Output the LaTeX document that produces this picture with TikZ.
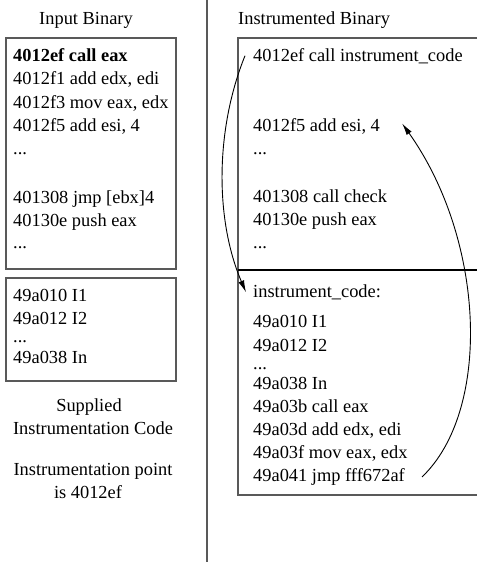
\documentclass[tikz,border=0pt]{standalone}
\usepackage{fontspec}
\setmainfont{Liberation Serif}
\usetikzlibrary{arrows.meta}
\begin{document}
\begin{tikzpicture}[x=1pt,y=-1pt,
  code/.style={anchor=base west,inner sep=0pt,font=\fontsize{18.4}{23.4}\selectfont},
  label/.style={anchor=base,inner sep=0pt,font=\fontsize{18.4}{23.4}\selectfont},
  boxline/.style={draw=black!65,line width=1.2pt},
  flow/.style={draw=black,line width=0.9pt,-{Latex[length=12pt,width=6pt]}}]
\useasboundingbox (0,0) rectangle (477,562);
% divider
\draw[boxline] (207,0) -- (207,562);
% headings
\node[label] (hin) at (86,24) {Input Binary};
\node[code] (hout) at (238,24) {Instrumented Binary};
% left boxes
\draw[boxline] (6,38) rectangle (176,269);
\draw[boxline] (6,278) rectangle (176,381);
% right boxes (open at right edge)
\draw[boxline] (477,38) -- (238,38) -- (238,495) -- (477,495);
\draw[draw=black,line width=1.1pt] (238,270) -- (477,270);
% left box 1
\node[code] (l1) at (13,61) {\textbf{4012ef call eax}};
\node[code] (l2) at (13,84.5) {4012f1 add edx, edi};
\node[code] (l3) at (13,108) {4012f3 mov eax, edx};
\node[code] (l4) at (13,131.5) {4012f5 add esi, 4};
\node[code] (l5) at (13,154.5) {...};
\node[code] (l6) at (13,203) {401308 jmp [ebx]4};
\node[code] (l7) at (13,226.5) {40130e push eax};
\node[code] (l8) at (13,248) {...};
% left box 2
\node[code] (s1) at (13,301) {49a010 I1};
\node[code] (s2) at (13,324.5) {49a012 I2};
\node[code] (s3) at (13,342) {...};
\node[code] (s4) at (13,363.5) {49a038 In};
% captions
\node[label] (c1) at (89,411) {Supplied};
\node[label] (c2) at (93,434) {Instrumentation Code};
\node[label] (c3) at (93,475) {Instrumentation point};
\node[label] (c4) at (88,498) {is 4012ef};
% right box 1
\node[code] (r1) at (253,61) {4012ef call instrument\_code};
\node[code] (r4) at (253,131.5) {4012f5 add esi, 4};
\node[code] (r5) at (253,154.5) {...};
\node[code] (r6) at (253,202) {401308 call check};
\node[code] (r7) at (253,225.5) {40130e push eax};
\node[code] (r8) at (253,248) {...};
% right box 2
\node[code] (ic) at (253,297.5) {instrument\_code:};
\node[code] (i1) at (253,327.5) {49a010 I1};
\node[code] (i2) at (253,351) {49a012 I2};
\node[code] (i3) at (253,369) {...};
\node[code] (i4) at (253,389) {49a038 In};
\node[code] (i5) at (253,412) {49a03b call eax};
\node[code] (i6) at (253,435) {49a03d add edx, edi};
\node[code] (i7) at (253,458.5) {49a03f mov eax, edx};
\node[code] (i8) at (253,481.5) {49a041 jmp fff672af};
% arrows
\coordinate (a1s) at ([xshift=-8pt]r1.west);
\coordinate (a1e) at ([xshift=-7pt]ic.west);
\draw[flow] (a1s) .. controls (215,130) and (215,220) .. (a1e);
\coordinate (a2s) at ([xshift=17pt]i8.east);
\coordinate (a2e) at ([xshift=22pt,yshift=3pt]r4.east);
\draw[flow] (a2s) .. controls (492,410) and (485,240) .. (a2e);
\end{tikzpicture}
\end{document}
